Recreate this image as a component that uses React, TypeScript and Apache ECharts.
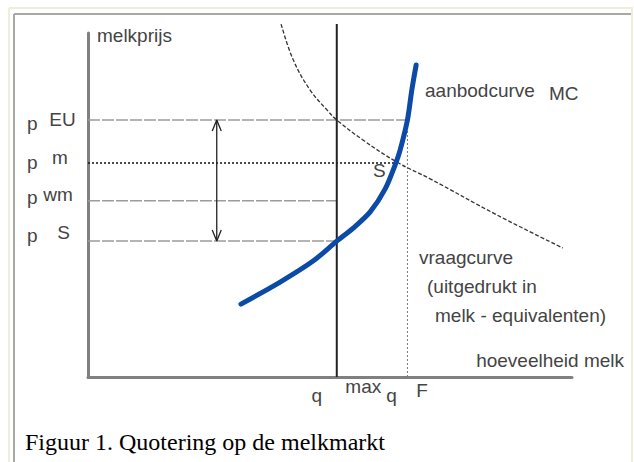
import React, { useEffect, useRef } from "react";
import * as echarts from "echarts";

// ---- data (axis units: quantity 0..100, price 0..100) ----
const priceNames = ["EU", "m", "wm", "S"];
const priceLevels = [74.7, 62.2, 51.2, 39.5]; // p^EU, p^m, p^wm, p^S
const qtyNames = ["max", "F"];
const qtyLevels = [51.4, 66.0]; // q^max, q^F
const qMaxTop = 102.6;
const equilibriumX = 63.6; // point S
const arrowX = 26.6;

const supplyX = [31.6, 39.7, 46.5, 51.4, 54.8, 58.3, 61.4, 63.6, 64.5, 66.0, 66.9, 67.8];
const supplyY = [21.2, 27.6, 33.7, 39.5, 43.3, 48.0, 54.7, 62.2, 66.0, 74.7, 83.4, 90.7];

const demandX = [39.9, 42.4, 45.9, 49.4, 51.4, 56.8, 63.8, 70.7, 84.5, 98.1];
const demandY = [102.6, 92.2, 83.4, 77.6, 74.7, 68.9, 62.5, 57.6, 47.1, 37.5];

const TEXT = "#444";
const SANS = "'Liberation Sans', Arial, sans-serif";
const SERIF = "'Liberation Serif', 'Times New Roman', serif";

function zip(xs: number[], ys: number[]) {
  return xs.map((x, i) => [x, ys[i]]);
}

function seg(data: number[][], lineStyle: any, z = 2) {
  return {
    type: "line",
    data,
    symbol: "none",
    clip: false,
    silent: true,
    z,
    lineStyle,
  };
}

export default function App() {
  const ref = useRef<HTMLDivElement>(null);

  useEffect(() => {
    if (!ref.current) return;
    const chart = echarts.init(ref.current, null, { renderer: "svg" });
    const [pEU, pm, pwm, pS] = priceLevels;
    const [qMax, qF] = qtyLevels;
    const HW = 0.93;
    const HH = 3.2;

    const grayRef = { color: "#9c9c9c", width: 1.5, type: [12, 2] };

    const pRich: any = {
      pEU: { padding: [7, 0, 0, 0] },
      pm: { padding: [0, 0, 1, 0] },
      pwm: { padding: [0, 0, 7, 0] },
      pS: { padding: [0, 0, 11, 0] },
    };
    const supRich: any = {
      sEU: { padding: [0, 0, 1, 3] },
      sm: { padding: [0, 2, 12, 0] },
      swm: { padding: [0, 6, 13, 0] },
      sS: { padding: [0, 0, 17, 5] },
    };
    const qRich: any = {
      qmax: { padding: [9, 40, 0, 0] },
      qF: { padding: [9, 32, 0, 0] },
    };
    const qSupRich: any = {
      xmax: { padding: [0, 0, 0, 53] },
      xF: { padding: [4, 0, 0, 29] },
    };
    const nameOfPrice = (v: number) => priceNames[priceLevels.indexOf(v)] ?? "";
    const nameOfQty = (v: number) => qtyNames[qtyLevels.indexOf(v)] ?? "";

    const hiddenAxis = {
      axisLine: { show: false },
      axisTick: { show: false },
      splitLine: { show: false },
    };

    const option: any = {
      animation: false,
      backgroundColor: "#fff",
      grid: { left: 88, right: 62, top: 33, bottom: 85, containLabel: false },
      xAxis: [
        {
          type: "value",
          min: 0,
          max: 100,
          position: "bottom",
          axisLine: { show: true, onZero: false, lineStyle: { color: "#808080", width: 3 } },
          axisTick: { show: false },
          splitLine: { show: false },
          axisLabel: {
            customValues: qtyLevels,
            margin: 0,
            color: TEXT,
            fontFamily: SANS,
            fontSize: 19,
            formatter: (v: number) => `{q${nameOfQty(v)}|q}`,
            rich: Object.fromEntries(
              Object.entries(qRich).map(([k, s]: any) => [k, { ...s, fontSize: 19, color: TEXT, fontFamily: SANS }])
            ),
          },
          name: "hoeveelheid melk",
          nameLocation: "end",
          nameGap: 52,
          nameTextStyle: {
            align: "right",
            verticalAlign: "bottom",
            fontSize: 19,
            color: TEXT,
            fontFamily: SANS,
            padding: [0, 0, 7, 0],
          },
        },
        {
          type: "value",
          min: 0,
          max: 100,
          position: "bottom",
          ...hiddenAxis,
          axisLabel: {
            customValues: qtyLevels,
            margin: 0,
            color: TEXT,
            fontFamily: SANS,
            fontSize: 19,
            formatter: (v: number) => `{x${nameOfQty(v)}|${nameOfQty(v)}}`,
            rich: Object.fromEntries(
              Object.entries(qSupRich).map(([k, s]: any) => [k, { ...s, fontSize: 19, color: TEXT, fontFamily: SANS }])
            ),
          },
        },
      ],
      yAxis: [
        {
          type: "value",
          min: 0,
          max: 100,
          position: "left",
          axisLine: { show: true, onZero: false, lineStyle: { color: "#808080", width: 3 } },
          axisTick: { show: false },
          splitLine: { show: false },
          axisLabel: {
            customValues: priceLevels,
            margin: 61,
            align: "left",
            color: TEXT,
            fontFamily: SANS,
            fontSize: 19,
            formatter: (v: number) => `{p${nameOfPrice(v)}|p}`,
            rich: Object.fromEntries(
              Object.entries(pRich).map(([k, s]: any) => [k, { ...s, fontSize: 19, color: TEXT, fontFamily: SANS }])
            ),
          },
          name: "melkprijs",
          nameLocation: "end",
          nameGap: -2,
          nameTextStyle: {
            align: "left",
            verticalAlign: "middle",
            fontSize: 19,
            color: TEXT,
            fontFamily: SANS,
            padding: [0, 0, 0, 9],
          },
        },
        {
          type: "value",
          min: 0,
          max: 100,
          position: "left",
          offset: 0,
          ...hiddenAxis,
          axisLabel: {
            customValues: priceLevels,
            margin: 27,
            align: "center",
            color: TEXT,
            fontFamily: SANS,
            fontSize: 19,
            formatter: (v: number) => `{s${nameOfPrice(v)}|${nameOfPrice(v)}}`,
            rich: Object.fromEntries(
              Object.entries(supRich).map(([k, s]: any) => [k, { ...s, fontSize: 19, color: TEXT, fontFamily: SANS }])
            ),
          },
        },
      ],
      series: [
        seg([[0, pEU], [qF, pEU]], grayRef),
        seg([[0, pwm], [qMax, pwm]], grayRef),
        seg([[0, pS], [qMax, pS]], grayRef),
        seg([[0, pm], [equilibriumX, pm]], { color: "#111", width: 1.5, type: [2, 2] }),
        seg([[qF, 0], [qF, pEU]], { color: "#777", width: 1, type: [2, 2] }),
        seg([[qMax, 0], [qMax, qMaxTop]], { color: "#222", width: 2 }, 3),
        // double arrow
        seg([[arrowX, pS], [arrowX, pEU]], { color: "#222", width: 1.3 }, 3),
        seg([[arrowX - HW, pEU - HH], [arrowX, pEU], [arrowX + HW, pEU - HH]], { color: "#222", width: 1.3 }, 3),
        seg([[arrowX - HW, pS + HH], [arrowX, pS], [arrowX + HW, pS + HH]], { color: "#222", width: 1.3 }, 3),
        // demand curve
        {
          ...seg(zip(demandX, demandY), { color: "#333", width: 1.3, type: [4, 2] }, 4),
          smooth: 0.4,
        },
        // supply curve
        {
          ...seg(zip(supplyX, supplyY), { color: "#0b4aa6", width: 5, cap: "round" }, 5),
          smooth: 0.3,
        },
      ],
      graphic: [
        // frame
        { type: "line", shape: { x1: 9, y1: 8, x2: 633, y2: 8 }, style: { stroke: "#efeddb", lineWidth: 2 }, silent: true },
        { type: "line", shape: { x1: 9, y1: 8, x2: 9, y2: 462 }, style: { stroke: "#efeddb", lineWidth: 2 }, silent: true },
        { type: "line", shape: { x1: 632, y1: 8, x2: 632, y2: 462 }, style: { stroke: "#efeddb", lineWidth: 2 }, silent: true },
        { type: "line", shape: { x1: 14, y1: 14, x2: 631, y2: 14 }, style: { stroke: "#a8a8a4", lineWidth: 2 }, silent: true },
        { type: "line", shape: { x1: 14, y1: 14, x2: 14, y2: 462 }, style: { stroke: "#a8a8a4", lineWidth: 2 }, silent: true },
        // annotations
        { type: "text", x: 425, y: 90, style: { text: "aanbodcurve", font: `19px ${SANS}`, fill: TEXT, verticalAlign: "middle" } },
        { type: "text", x: 549, y: 93, style: { text: "MC", font: `19px ${SANS}`, fill: TEXT, verticalAlign: "middle" } },
        { type: "text", x: 373, y: 170, style: { text: "S", font: `19px ${SANS}`, fill: TEXT, verticalAlign: "middle" } },
        { type: "text", x: 419, y: 257, style: { text: "vraagcurve", font: `19px ${SANS}`, fill: TEXT, verticalAlign: "middle" } },
        { type: "text", x: 427, y: 286, style: { text: "(uitgedrukt in", font: `19px ${SANS}`, fill: TEXT, verticalAlign: "middle" } },
        { type: "text", x: 435, y: 315, style: { text: "melk - equivalenten)", font: `19px ${SANS}`, fill: TEXT, verticalAlign: "middle" } },
        { type: "text", x: 25, y: 442, style: { text: "Figuur 1. Quotering op de melkmarkt", font: `24px ${SERIF}`, fill: "#000", verticalAlign: "middle" } },
      ],
    };

    chart.setOption(option);
    return () => chart.dispose();
  }, []);

  return (
    <div
      ref={ref}
      style={{ position: "fixed", left: 0, top: 0, width: 634, height: 462, background: "#fff" }}
    />
  );
}
